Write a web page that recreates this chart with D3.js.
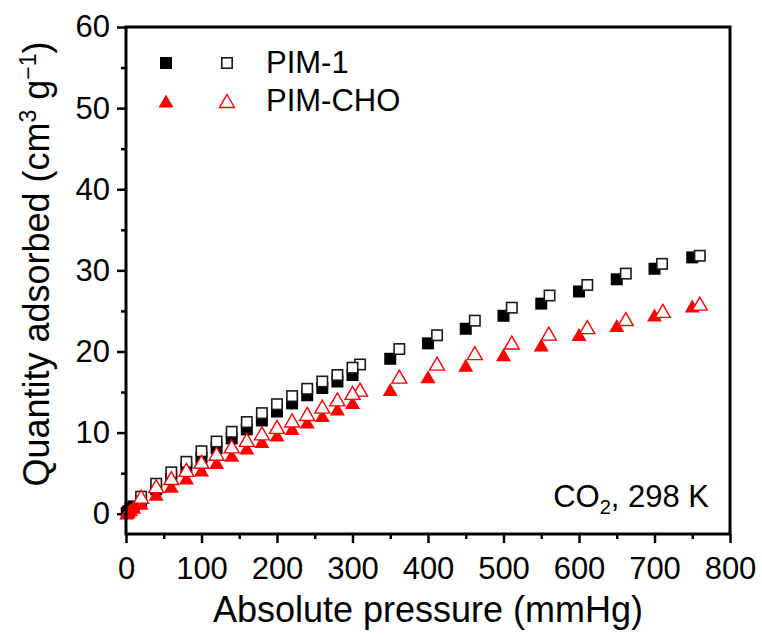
<!DOCTYPE html>
<html><head><meta charset="utf-8">
<script src="https://cdn.jsdelivr.net/npm/d3@7"></script>
<style>html,body{margin:0;padding:0;background:#fff;}svg{display:block;}</style>
</head><body>
<svg id="chart" width="762" height="635"></svg>
<script>
// ---- data ----
const pim1AdsP = [1, 3, 6, 10, 20, 40, 60, 80, 100, 120, 140, 160, 180, 200, 220, 240, 260, 280, 300, 350, 400, 450, 500, 550, 600, 650, 700, 750];
const pim1AdsQ = [0.1, 0.3, 0.6, 0.9, 1.6, 3.0, 4.3, 5.6, 6.9, 8.1, 9.3, 10.4, 11.5, 12.6, 13.6, 14.6, 15.5, 16.3, 17.1, 19.1, 21.0, 22.8, 24.4, 25.9, 27.4, 28.9, 30.2, 31.6];
const pim1DesP = [760, 710, 662, 611, 561, 511, 462, 412, 362, 310, 300, 280, 260, 240, 220, 200, 180, 160, 140, 120, 100, 80, 60, 40, 20];
const pim1DesQ = [31.8, 30.8, 29.6, 28.2, 26.9, 25.4, 23.8, 22.0, 20.3, 18.4, 18.0, 17.1, 16.3, 15.4, 14.5, 13.5, 12.4, 11.3, 10.1, 8.9, 7.7, 6.4, 5.1, 3.7, 2.1];
const choAdsP = [1, 3, 6, 10, 20, 40, 60, 80, 100, 120, 140, 160, 180, 200, 220, 240, 260, 280, 300, 350, 400, 450, 500, 550, 600, 650, 700, 750];
const choAdsQ = [0.1, 0.25, 0.5, 0.8, 1.3, 2.4, 3.4, 4.4, 5.4, 6.3, 7.2, 8.1, 8.9, 9.7, 10.5, 11.3, 12.1, 12.9, 13.7, 15.3, 16.9, 18.3, 19.6, 20.8, 22.1, 23.2, 24.5, 25.6];
const choDesP = [760, 711, 662, 611, 560, 511, 462, 412, 362, 310, 300, 280, 260, 240, 220, 200, 180, 160, 140, 120, 100, 80, 60, 40, 20];
const choDesQ = [25.9, 25.0, 24.0, 23.0, 22.2, 21.1, 19.8, 18.5, 16.9, 15.3, 14.9, 14.1, 13.2, 12.3, 11.5, 10.7, 9.9, 9.1, 8.3, 7.4, 6.4, 5.4, 4.4, 3.4, 2.1];
const xTicks = [0, 100, 200, 300, 400, 500, 600, 700, 800];
const xMinor = [50, 150, 250, 350, 450, 550, 650, 750];
const yTicks = [0, 10, 20, 30, 40, 50, 60];
const yMinor = [5, 15, 25, 35, 45, 55];
const seriesNames = ["PIM-1", "PIM-CHO"];

const FONT = "'Liberation Sans', Arial, Helvetica, sans-serif";
const svg = d3.select("#chart").style("font-family", FONT);
const L = 126, R = 730, T = 27, B = 534;
const x = d3.scaleLinear().domain([0, 800]).range([L, R]);
const y = d3.scaleLinear().domain([-2.5, 60]).range([B, T]);

// axes
const gx = svg.append("g").attr("transform", `translate(0,${B})`)
  .call(d3.axisBottom(x).tickValues(xTicks).tickSize(9).tickSizeOuter(0).tickPadding(14));
const gxm = svg.append("g").attr("transform", `translate(0,${B})`)
  .call(d3.axisBottom(x).tickValues(xMinor).tickSize(5).tickSizeOuter(0).tickFormat(""));
const gy = svg.append("g").attr("transform", `translate(${L},0)`)
  .call(d3.axisLeft(y).tickValues(yTicks).tickSize(9).tickSizeOuter(0).tickPadding(7));
const gym = svg.append("g").attr("transform", `translate(${L},0)`)
  .call(d3.axisLeft(y).tickValues(yMinor).tickSize(5).tickSizeOuter(0).tickFormat(""));
[gx, gxm, gy, gym].forEach(g => {
  g.select(".domain").remove();
  g.selectAll("line").attr("stroke", "#000").attr("stroke-width", 2.5);
  g.selectAll("text").attr("fill", "#000").style("font-size", "31px").style("font-family", FONT);
});

// data marks
const sq = 12, tw = 15, th = 13;
function triPath(cx, cy) {
  return `M${cx},${cy - th / 2}L${cx + tw / 2},${cy + th / 2}L${cx - tw / 2},${cy + th / 2}Z`;
}
const pim1Ads = pim1AdsP.map((p, i) => ({ p, q: pim1AdsQ[i] }));
const pim1Des = pim1DesP.map((p, i) => ({ p, q: pim1DesQ[i] }));
const choAds = choAdsP.map((p, i) => ({ p, q: choAdsQ[i] }));
const choDes = choDesP.map((p, i) => ({ p, q: choDesQ[i] }));

const plot = svg.append("g");
plot.selectAll("rect.fs").data(pim1Ads).join("rect").attr("class", "fs")
  .attr("x", d => x(d.p) - sq / 2).attr("y", d => y(d.q) - sq / 2)
  .attr("width", sq).attr("height", sq).attr("fill", "#000");
plot.selectAll("rect.os").data(pim1Des).join("rect").attr("class", "os")
  .attr("x", d => x(d.p) - (sq - 1.6) / 2).attr("y", d => y(d.q) - (sq - 1.6) / 2)
  .attr("width", sq - 1.6).attr("height", sq - 1.6).attr("fill", "#fff")
  .attr("stroke", "#1a1a1a").attr("stroke-width", 1.6);
plot.selectAll("path.ft").data(choAds).join("path").attr("class", "ft")
  .attr("d", d => triPath(x(d.p), y(d.q))).attr("fill", "#ff0000");
plot.selectAll("path.ot").data(choDes).join("path").attr("class", "ot")
  .attr("d", d => triPath(x(d.p), y(d.q))).attr("fill", "#fff")
  .attr("stroke", "#ff0000").attr("stroke-width", 1.4);

// frame
svg.append("rect").attr("x", L).attr("y", T).attr("width", R - L).attr("height", B - T)
  .attr("fill", "none").attr("stroke", "#000").attr("stroke-width", 3);

// legend
const leg = svg.append("g");
leg.append("rect").attr("x", 166 - sq / 2).attr("y", 63 - sq / 2).attr("width", sq).attr("height", sq).attr("fill", "#000");
leg.append("rect").attr("x", 227 - (sq - 1.6) / 2).attr("y", 63 - (sq - 1.6) / 2).attr("width", sq - 1.6).attr("height", sq - 1.6)
  .attr("fill", "#fff").attr("stroke", "#1a1a1a").attr("stroke-width", 1.6);
leg.append("path").attr("d", triPath(166, 101)).attr("fill", "#ff0000");
leg.append("path").attr("d", triPath(227, 101)).attr("fill", "#fff").attr("stroke", "#ff0000").attr("stroke-width", 1.4);
leg.append("text").attr("x", 266).attr("y", 73).text(seriesNames[0]).style("font-size", "31px");
leg.append("text").attr("x", 266).attr("y", 111).text(seriesNames[1]).style("font-size", "31px");

// annotation
const ann = svg.append("text").attr("x", 709).attr("y", 507).attr("text-anchor", "end").style("font-size", "31px");
ann.append("tspan").text("CO");
ann.append("tspan").attr("dy", 7).style("font-size", "20px").text("2");
ann.append("tspan").attr("dy", -7).text(", 298 K");

// axis titles
svg.append("text").attr("x", (L + R) / 2).attr("y", 622).attr("text-anchor", "middle")
  .style("font-size", "36px").text("Absolute pressure (mmHg)");
const yt = svg.append("text").attr("transform", "translate(49,264) rotate(-90)").attr("text-anchor", "middle")
  .style("font-size", "36px");
yt.append("tspan").text("Quantity adsorbed (cm");
yt.append("tspan").attr("dy", -13).style("font-size", "23px").text("3");
yt.append("tspan").attr("dy", 13).text(" g");
yt.append("tspan").attr("dy", -13).style("font-size", "23px").text("\u22121");
yt.append("tspan").attr("dy", 13).text(")");
</script>
</body></html>
